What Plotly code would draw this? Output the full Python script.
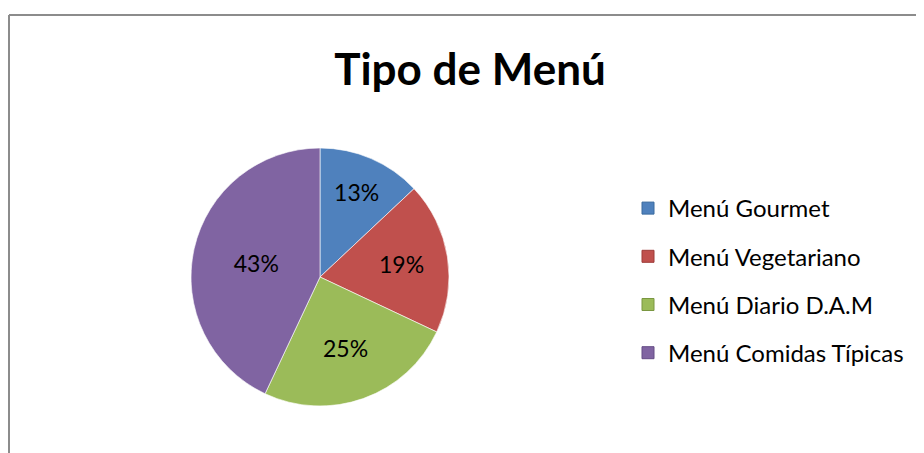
import plotly.graph_objects as go

categories = ["Menú Gourmet", "Menú Vegetariano", "Menú Diario D.A.M", "Menú Comidas Típicas"]
values = [13, 19, 25, 43]
colors = ["#4F81BD", "#C0504D", "#9BBB59", "#8064A2"]
edge_colors = ["#3A6A9E", "#9E3B38", "#7A9741", "#644C85"]
title_text = "Tipo de Menú"

W, H = 924, 453
OFF = 8  # the page's default body margin shifts the figure by this much
FONT = "Lato, 'Open Sans', sans-serif"


def px(x):
    return (x - OFF) / W


def py(y):
    return 1 - (y - OFF) / H


fig = go.Figure()

# pie
cx, cy, r = 320, 277, 129
fig.add_trace(go.Pie(
    labels=categories,
    values=values,
    sort=False,
    direction="clockwise",
    rotation=0,
    marker=dict(colors=colors, line=dict(color="rgba(255,255,255,0.6)", width=1)),
    textinfo="percent",
    texttemplate="%{percent:.0%}",
    textposition="inside",
    insidetextorientation="horizontal",
    textfont=dict(family=FONT, size=23, color="black"),
    showlegend=False,
    hoverinfo="label+percent",
    domain=dict(x=[px(cx - r), px(cx + r)], y=[py(cy + r), py(cy - r)]),
))

# legend entries (one per category, so they can be spaced like the original)
for i, (name, col, ec) in enumerate(zip(categories, colors, edge_colors)):
    fig.add_trace(go.Scatter(
        x=[None], y=[None], mode="markers", name=name,
        legendgroup=f"g{i}",
        marker=dict(symbol="square", size=12, color=col, line=dict(color=ec, width=1)),
        hoverinfo="skip",
    ))

fig.update_layout(
    width=W, height=H,
    margin=dict(l=0, r=0, t=0, b=0),
    paper_bgcolor="white",
    plot_bgcolor="white",
    font=dict(family=FONT, color="black"),
    title=dict(
        text=f"<b>{title_text}</b>",
        font=dict(family=FONT, size=44, color="black"),
        x=px(470), xanchor="center", xref="container",
        y=py(70), yanchor="middle", yref="container",
    ),
    xaxis=dict(visible=False),
    yaxis=dict(visible=False),
    legend=dict(
        x=px(628), xanchor="left",
        y=py(186), yanchor="top",
        font=dict(family=FONT, size=24, color="black"),
        tracegroupgap=14,
        itemwidth=30,
        bgcolor="rgba(0,0,0,0)",
    ),
    shapes=[
        dict(type="line", xref="paper", yref="paper",
             x0=1 / W, x1=1 / W, y0=0, y1=py(15),
             line=dict(color="#8C8C8C", width=2)),
        dict(type="line", xref="paper", yref="paper",
             x0=1 / W, x1=1, y0=py(15), y1=py(15),
             line=dict(color="#8C8C8C", width=2)),
    ],
)

fig.write_html("out.html")
